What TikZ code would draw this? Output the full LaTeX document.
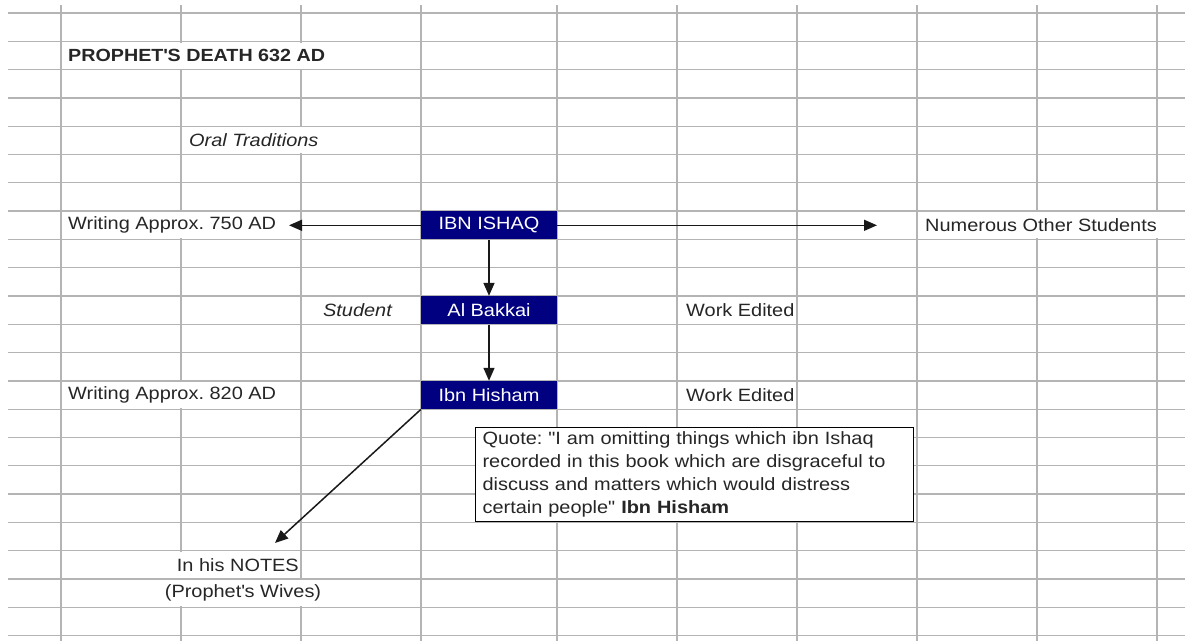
\documentclass[tikz,border=0pt]{standalone}
\usepackage{fontspec}
\setmainfont{Liberation Sans}[FakeStretch=1.12, Ligatures=TeXOff]
\usetikzlibrary{arrows.meta}
\frenchspacing

\definecolor{cellblue}{RGB}{0,0,128}
\definecolor{gridgray}{RGB}{180,180,180}

\tikzstyle{cell} = [fill=white, inner xsep=1pt, inner ysep=0pt, minimum height=26pt, text=black!85, font=\fontsize{17.8}{23}\selectfont]
\tikzstyle{title} = [cell, font=\fontsize{17.6}{23}\selectfont\bfseries]
\tikzstyle{note} = [cell, font=\fontsize{17.8}{23}\selectfont\itshape]
\tikzstyle{bag} = [fill=cellblue, text=white, minimum width=136pt, minimum height=28.3pt, inner sep=0pt, font=\fontsize{17.8}{23}\selectfont]
\tikzstyle{quotebox} = [draw=black, line width=1.2pt, fill=white, align=left, text width=424pt, inner xsep=7pt, inner ysep=4pt, text=black!85, font=\fontsize{17.8}{23}\selectfont]
\tikzstyle{link} = [line width=1.5pt, black!90, -{Triangle[length=13pt,width=11pt]}]

\begin{document}
\begin{tikzpicture}[x=1pt, y=-1pt]
\useasboundingbox (0,0) rectangle (1185,641);
%sheet grid
\foreach \x in {61,181,301,421,557,677,797,917,1037,1157}
    \draw[gridgray, line width=1.3pt] (\x,5) -- (\x,641);
\foreach \k in {0,...,22}
    \draw[gridgray, line width=1.3pt] (8,{13+28.3*\k}) -- (1185,{13+28.3*\k});

%begin header
\node[title, anchor=west] (death) at (67,55.5) {PROPHET\textquotesingle S DEATH 632 AD};
\node[note, anchor=west] (oral) at (188,140.4) {Oral Traditions};
%end header

%begin chain
\node[bag] (ishaq) at (489,225.3) {IBN ISHAQ};
\node[bag] (bakkai) at (489,310.2) {Al Bakkai};
\node[bag] (hisham) at (489,395.1) {Ibn Hisham};
%end chain

%begin side cells
\node[cell, anchor=west] (write750) at (67,225.3) {Writing Approx. 750 AD};
\node[cell, anchor=west] (others) at (924,225.3) {Numerous Other Students};
\node[note, anchor=east] (student) at (393,310.2) {Student};
\node[cell, anchor=west] (edited1) at (685,310.2) {Work Edited};
\node[cell, anchor=west] (write820) at (67,395.1) {Writing Approx. 820 AD};
\node[cell, anchor=west] (edited2) at (685,395.1) {Work Edited};
\node[cell, anchor=east] (notes) at (300,564.9) {In his NOTES};
\node[cell] (wives) at (243,593.2) {(Prophet\textquotesingle s Wives)};
%end side cells

%begin quote
\node[quotebox, anchor=north west] (quote) at (475,427) {Quote: "I am omitting things which ibn Ishaq\\
recorded in this book which are disgraceful to\\
discuss and matters which would distress\\
certain people" \textbf{Ibn Hisham}};
%end quote

%arrows
\coordinate (ltip) at (289,225.3);
\coordinate (rtip) at (877,225.3);
\coordinate (notetip) at (275,543);
\draw[link] (ishaq.west) -- (ltip);
\draw[link] (ishaq.east) -- (rtip);
\draw[link] (ishaq.south) -- (bakkai.north);
\draw[link] (bakkai.south) -- (hisham.north);
\draw[link] (hisham.south west) -- (notetip);
\end{tikzpicture}
\end{document}
